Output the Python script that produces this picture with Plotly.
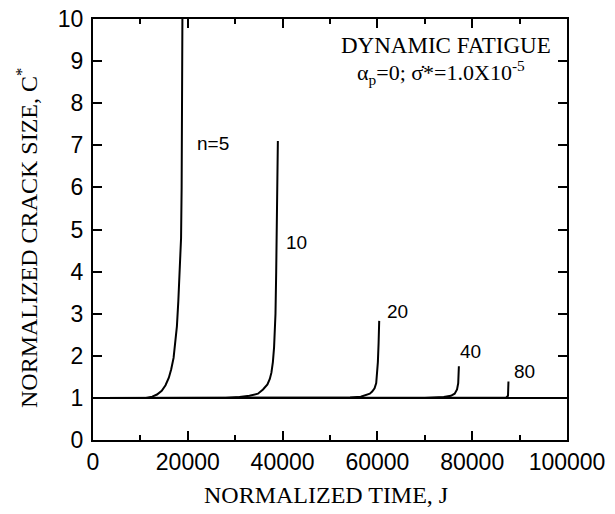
"""Dynamic fatigue: normalized crack size vs normalized time (plotly)."""
import plotly.graph_objects as go

# n = 5
t_n5 = [0, 8000, 11200, 12500, 13500, 14500, 15300, 16000, 16500, 17000, 17400,
        17700, 18000, 18300, 18580, 18700, 18780, 18860]
c_n5 = [1.0, 1.0, 1.0, 1.03, 1.08, 1.17, 1.3, 1.48, 1.68, 1.95, 2.3,
        2.7, 3.3, 4.1, 4.8, 6.0, 8.0, 10.0]
# n = 10
t_n10 = [0, 28000, 30900, 33000, 34800, 35870, 36800, 37300, 37640, 37950, 38200,
         38350, 38500, 38650, 38800, 39000]
c_n10 = [1.0, 1.0, 1.02, 1.05, 1.1, 1.2, 1.32, 1.45, 1.6, 1.85, 2.2,
         2.6, 3.0, 4.0, 5.5, 7.1]
# n = 20
t_n20 = [0, 50000, 54240, 56500, 57600, 58400, 58900, 59400, 59750, 59950, 60100,
         60250, 60380]
c_n20 = [1.0, 1.0, 1.01, 1.03, 1.06, 1.1, 1.15, 1.23, 1.35, 1.55, 1.85,
         2.3, 2.83]
# n = 40
t_n40 = [0, 70000, 74000, 75500, 76300, 76800, 77050, 77190]
c_n40 = [1.0, 1.0, 1.02, 1.05, 1.1, 1.2, 1.35, 1.75]
# n = 80
t_n80 = [0, 85000, 87200, 87550, 87650, 87650]
c_n80 = [1.0, 1.0, 1.01, 1.05, 1.2, 1.39]
# baseline C* = 1
t_base = [0, 100000]
c_base = [1.0, 1.0]

curve_labels = ["n=5", "10", "20", "40", "80"]
label_t = [25280, 43030, 64150, 79580, 90980]
label_c = [7.04, 4.69, 3.05, 2.10, 1.63]

SERIF = "Liberation Serif, Times New Roman, serif"
SANS = "Liberation Sans, Arial, sans-serif"

fig = go.Figure()
for tx, cy in [(t_base, c_base), (t_n5, c_n5), (t_n10, c_n10),
               (t_n20, c_n20), (t_n40, c_n40), (t_n80, c_n80)]:
    fig.add_trace(go.Scatter(x=tx, y=cy, mode="lines",
                             line=dict(color="black", width=2),
                             showlegend=False, hoverinfo="skip"))

for txt, lx, ly in zip(curve_labels, label_t, label_c):
    fig.add_annotation(x=lx, y=ly, text=txt, showarrow=False,
                       font=dict(family=SANS, size=19, color="black"))

# header text
fig.add_annotation(xref="paper", yref="paper", x=0.97, y=0.938,
                   xanchor="right", yanchor="middle",
                   text="DYNAMIC FATIGUE", showarrow=False,
                   font=dict(family=SERIF, size=23, color="black"))
fig.add_annotation(xref="paper", yref="paper", x=0.552, y=0.872,
                   xanchor="left", yanchor="middle",
                   text="α<sub>p</sub>=0; σ̇*=1.0X10<sup>-5</sup>", showarrow=False,
                   font=dict(family=SERIF, size=22, color="black"))

# axis titles
fig.add_annotation(xref="paper", yref="paper", x=0.492, y=-0.131,
                   xanchor="center", yanchor="middle",
                   text="NORMALIZED TIME, J", showarrow=False,
                   font=dict(family=SERIF, size=24, color="black"))
fig.add_annotation(xref="paper", yref="paper", x=-0.139, y=0.48, textangle=-90,
                   xanchor="center", yanchor="middle",
                   text="NORMALIZED CRACK SIZE, C<sup>*</sup>", showarrow=False,
                   font=dict(family=SERIF, size=24, color="black"))

axis_common = dict(showgrid=False, zeroline=False, showline=True, linecolor="black",
                   linewidth=2, mirror="ticks", ticks="inside", tickcolor="black",
                   tickwidth=2, automargin=False, ticklabeloverflow="allow",
                   tickfont=dict(family=SANS, size=23, color="black"))

fig.update_xaxes(range=[0, 100000], dtick=20000, tickformat="d", ticklen=9,
                 minor=dict(dtick=10000, ticks="inside", ticklen=5, tickcolor="black", tickwidth=2),
                 ticklabelstandoff=0, **axis_common)
fig.update_yaxes(range=[0, 10], dtick=1, ticklen=9, ticklabelstandoff=3, **axis_common)

# page body adds an 8 px margin, so the figure is 8 px smaller each way
fig.update_layout(width=607, height=506, margin=dict(l=85, r=48, t=11, b=74),
                  plot_bgcolor="white", paper_bgcolor="white")

fig.write_html("out.html")
